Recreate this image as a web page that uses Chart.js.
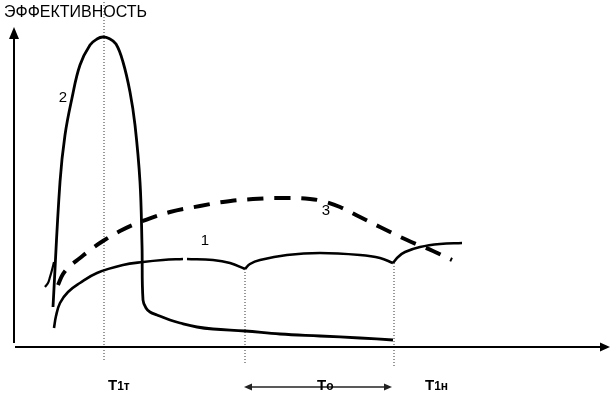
<!DOCTYPE html>
<html>
<head>
<meta charset="utf-8">
<script src="https://cdn.jsdelivr.net/npm/chart.js@4.4.0/dist/chart.umd.min.js"></script>
<style>
  html, body { margin: 0; padding: 0; background: #fff; }
  #wrap { width: 616px; height: 398px; position: relative; }
</style>
</head>
<body>
<div id="wrap"><canvas id="chart"></canvas></div>
<script>
// время по горизонтали (от начала оси), эффективность по вертикали
const curve1a = [[39,19],[41,31],[45,44],[53,55],[65,64],[82,74],[108,82],[128,85],[148,87],[168,88]];
const curve1b = [[172,88],[198,87],[215,84],[230,78]];
const curve1c = [[230,78],[235,83],[245,87],[272,92],[305,94],[345,92],[365,89],[378,84]];
const curve1d = [[378,84],[383,90],[390,95],[405,100],[425,103],[447,104]];

const curve2 = [[38,40],[45,165],[50,212],[57,249],[65,282],[75,302],[82,308],[88,310],[94,308.5],
  [101,303],[108,285],[115,255],[120,222],[125,165],[127,102],[128,47],[131,39],[135,35],[142,32],[155,27],
  [165,24],[182,20],[198,18],[230,16],[265,13],[305,11],[345,9],[378,7]];
const curve2hook = [[30,60],[33,64],[35,70],[37,77],[39,85]];

const curve3 = [[43,62],[48,73],[55,81],[65,89],[75,97],[88,106],[105,116],[125,125],[155,135],[185,141],
  [208,145],[238,148],[272,149],[295,148],[307,146],[325,140],[345,130],[365,120],[392,107],[418,96],[437,87]];

// отметки времени: T1т, начало To, конец To (T1н)
const markX = [89, 230, 379];
const markTop = [345, 75, 84];
const markBottom = [-15, -18, -21];

const curveLabels = ['2', '1', '3'];
const curveLabelPos = [[48,249],[190,106],[311,136]];

const axisTitle = 'ЭФФЕКТИВНОСТЬ';

const pts = arr => arr.map(p => ({ x: p[0], y: p[1] }));

const solid = (data) => ({
  data: pts(data), borderColor: '#000', borderWidth: 2.6, pointRadius: 0,
  tension: 0.4, fill: false
});

const datasets = [
  solid(curve1a), solid(curve1b), solid(curve1c), solid(curve1d),
  Object.assign(solid(curve2), { borderWidth: 2.8 }),
  Object.assign(solid(curve2hook), { borderWidth: 2.2 }),
  { data: pts(curve3), borderColor: '#000', borderWidth: 4, borderDash: [16, 11],
    pointRadius: 0, tension: 0.4, fill: false }
];
markX.forEach((x, i) => {
  datasets.push({
    data: [{ x: x, y: markTop[i] }, { x: x, y: markBottom[i] }],
    borderColor: '#333', borderWidth: 1, borderDash: [1, 2], pointRadius: 0, fill: false
  });
});

function arrowHead(ctx, x, y, dx, dy, len, half) {
  ctx.beginPath();
  ctx.moveTo(x, y);
  ctx.lineTo(x - dx * len - dy * half, y - dy * len + dx * half);
  ctx.lineTo(x - dx * len + dy * half, y - dy * len - dx * half);
  ctx.closePath();
  ctx.fill();
}

const schemePlugin = {
  id: 'scheme',
  afterDatasetsDraw(chart) {
    const ctx = chart.ctx;
    const sx = chart.scales.x, sy = chart.scales.y;
    const X = v => sx.getPixelForValue(v), Y = v => sy.getPixelForValue(v);
    ctx.save();
    ctx.fillStyle = '#000';
    ctx.strokeStyle = '#000';

    // оси
    ctx.lineWidth = 2;
    ctx.beginPath();
    ctx.moveTo(X(-1), Y(4)); ctx.lineTo(X(-1), Y(310));
    ctx.moveTo(X(0), Y(0)); ctx.lineTo(X(587), Y(0));
    ctx.stroke();
    arrowHead(ctx, X(-1), Y(320), 0, -1, 12, 5);
    arrowHead(ctx, X(595), Y(0), 1, 0, 10, 4.5);

    // стрелка To
    ctx.strokeStyle = '#222';
    ctx.fillStyle = '#222';
    ctx.lineWidth = 1.4;
    ctx.beginPath();
    ctx.moveTo(X(236), Y(-40)); ctx.lineTo(X(370), Y(-40));
    ctx.stroke();
    arrowHead(ctx, X(229), Y(-40), -1, 0, 8, 3.5);
    arrowHead(ctx, X(377), Y(-40), 1, 0, 8, 3.5);

    ctx.fillStyle = '#000';
    ctx.textBaseline = 'alphabetic';
    ctx.textAlign = 'left';
    ctx.font = '16px "Liberation Sans", Arial, sans-serif';
    ctx.fillText(axisTitle, X(-11), Y(330));

    ctx.font = '15px "Liberation Sans", Arial, sans-serif';
    ctx.textAlign = 'center';
    ctx.textBaseline = 'middle';
    curveLabels.forEach((t, i) => {
      ctx.fillText(t, X(curveLabelPos[i][0]), Y(curveLabelPos[i][1]));
    });

    // подписи под осью
    ctx.textAlign = 'left';
    ctx.textBaseline = 'alphabetic';
    const sub = (main, small, x) => {
      ctx.font = 'bold 15px "Liberation Sans", Arial, sans-serif';
      ctx.fillText(main, X(x), Y(-43));
      const w = ctx.measureText(main).width;
      ctx.font = 'bold 12px "Liberation Sans", Arial, sans-serif';
      ctx.fillText(small, X(x) + w, Y(-43));
    };
    sub('Т', '1т', 93);
    sub('Т', 'о', 302);
    sub('Т', '1н', 410);
    ctx.restore();
  }
};

new Chart(document.getElementById('chart'), {
  type: 'line',
  data: { datasets: datasets },
  options: {
    responsive: true,
    maintainAspectRatio: false,
    animation: false,
    layout: { padding: 0 },
    plugins: { legend: { display: false }, tooltip: { enabled: false } },
    scales: {
      x: { type: 'linear', min: -15, max: 601, display: false },
      y: { type: 'linear', min: -51, max: 347, display: false }
    }
  },
  plugins: [schemePlugin]
});
</script>
</body>
</html>
